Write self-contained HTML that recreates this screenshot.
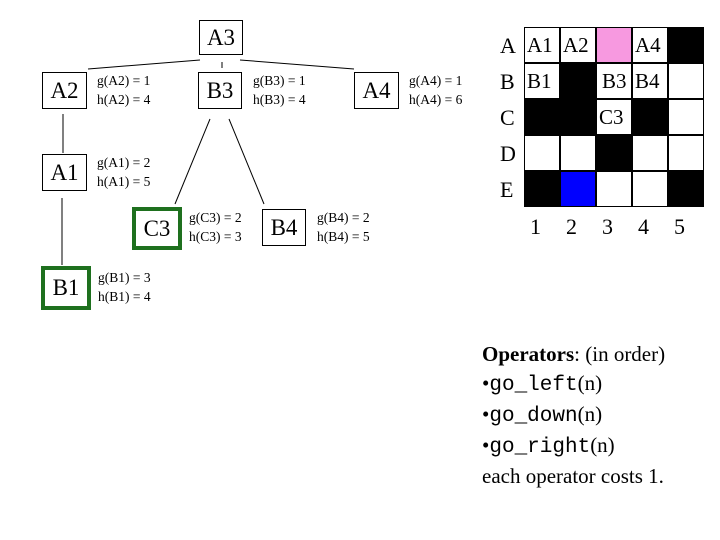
<!DOCTYPE html>
<html><head><meta charset="utf-8"><style>
body{margin:0;width:720px;height:540px;background:#fff;position:relative;overflow:hidden;font-family:"Liberation Serif",serif;color:#000}
.n{position:absolute;box-sizing:border-box;border:1px solid #000;font-size:23px;display:flex;align-items:center;justify-content:center;background:#fff}
.g{border:4px solid #1e701e}
.l{position:absolute;font-size:13.5px;line-height:19px;white-space:nowrap}
.t{position:absolute;font-size:22px;line-height:22px}
.c{position:absolute;width:36px;height:36px;box-sizing:border-box;border:1px solid #000;font-size:21px;line-height:34px;padding-left:2px}
.b{background:#000}
.ops{position:absolute;left:482px;top:340px;font-size:21px;line-height:29px;white-space:nowrap}
.ops code{font-family:"Liberation Mono",monospace;font-size:21px}
</style></head><body>
<svg style="position:absolute;left:0;top:0" width="720" height="540">
<g stroke="#000" stroke-width="1">
<line x1="88" y1="69" x2="200" y2="60"/>
<line x1="222" y1="62" x2="222" y2="68"/>
<line x1="240" y1="60" x2="354" y2="69"/>
<line x1="63" y1="114" x2="63" y2="153"/>
<line x1="62" y1="198" x2="62" y2="265"/>
<line x1="210" y1="119" x2="175" y2="204"/>
<line x1="229" y1="119" x2="264" y2="204"/>
</g></svg>
<div class="n" style="left:199px;top:20px;width:44px;height:35px">A3</div>
<div class="n" style="left:42px;top:72px;width:45px;height:37px">A2</div>
<div class="l" style="left:97px;top:71px">g(A2) = 1<br>h(A2) = 4</div>
<div class="n" style="left:198px;top:72px;width:44px;height:37px">B3</div>
<div class="l" style="left:253px;top:71px">g(B3) = 1<br>h(B3) = 4</div>
<div class="n" style="left:354px;top:72px;width:45px;height:37px">A4</div>
<div class="l" style="left:409px;top:71px">g(A4) = 1<br>h(A4) = 6</div>
<div class="n" style="left:42px;top:154px;width:45px;height:37px">A1</div>
<div class="l" style="left:97px;top:153px">g(A1) = 2<br>h(A1) = 5</div>
<div class="n g" style="left:132px;top:207px;width:50px;height:43px">C3</div>
<div class="l" style="left:189px;top:208px">g(C3) = 2<br>h(C3) = 3</div>
<div class="n" style="left:262px;top:209px;width:44px;height:37px">B4</div>
<div class="l" style="left:317px;top:208px">g(B4) = 2<br>h(B4) = 5</div>
<div class="n g" style="left:41px;top:266px;width:50px;height:44px">B1</div>
<div class="l" style="left:98px;top:268px">g(B1) = 3<br>h(B1) = 4</div>

<div class="t" style="left:500px;top:35px">A</div>
<div class="t" style="left:500px;top:71px">B</div>
<div class="t" style="left:500px;top:107px">C</div>
<div class="t" style="left:500px;top:143px">D</div>
<div class="t" style="left:500px;top:179px">E</div>
<div class="t" style="left:530px;top:216px">1</div>
<div class="t" style="left:566px;top:216px">2</div>
<div class="t" style="left:602px;top:216px">3</div>
<div class="t" style="left:638px;top:216px">4</div>
<div class="t" style="left:674px;top:216px">5</div>

<div class="c" style="left:524px;top:27px">A1</div>
<div class="c" style="left:560px;top:27px">A2</div>
<div class="c" style="left:596px;top:27px;background:#f799e0"></div>
<div class="c" style="left:632px;top:27px">A4</div>
<div class="c b" style="left:668px;top:27px"></div>
<div class="c" style="left:524px;top:63px">B1</div>
<div class="c b" style="left:560px;top:63px"></div>
<div class="c" style="left:596px;top:63px;padding-left:5px">B3</div>
<div class="c" style="left:632px;top:63px">B4</div>
<div class="c" style="left:668px;top:63px"></div>
<div class="c b" style="left:524px;top:99px"></div>
<div class="c b" style="left:560px;top:99px"></div>
<div class="c" style="left:596px;top:99px">C3</div>
<div class="c b" style="left:632px;top:99px"></div>
<div class="c" style="left:668px;top:99px"></div>
<div class="c" style="left:524px;top:135px"></div>
<div class="c" style="left:560px;top:135px"></div>
<div class="c b" style="left:596px;top:135px"></div>
<div class="c" style="left:632px;top:135px"></div>
<div class="c" style="left:668px;top:135px"></div>
<div class="c b" style="left:524px;top:171px"></div>
<div class="c" style="left:560px;top:171px;background:#0000ff"></div>
<div class="c" style="left:596px;top:171px"></div>
<div class="c" style="left:632px;top:171px"></div>
<div class="c b" style="left:668px;top:171px"></div>

<div class="ops"><b>Operators</b>: (in order)<br>&#8226;<code>go_left</code>(n)<br>&#8226;<code>go_down</code>(n)<br>&#8226;<code>go_right</code>(n)<br>each operator costs 1.</div>
</body></html>
